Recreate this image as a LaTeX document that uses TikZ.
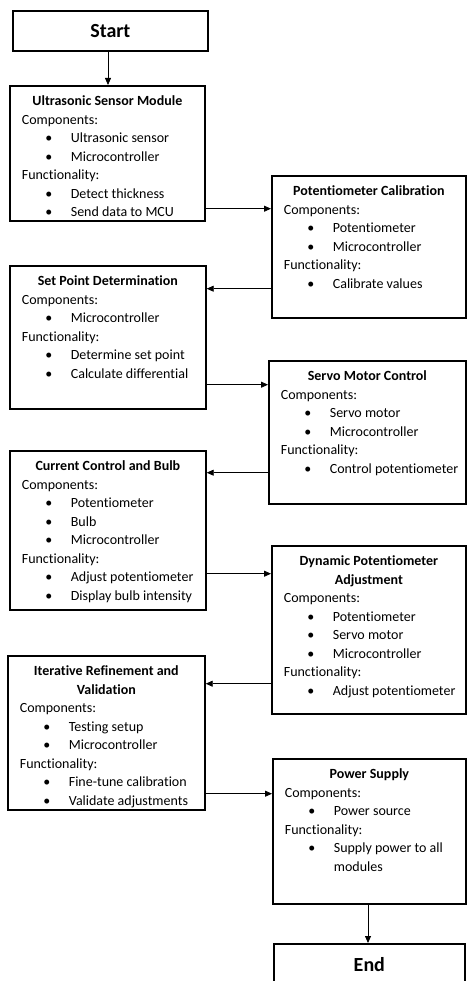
\documentclass[tikz,border=0pt]{standalone}
\usepackage{fontspec}
\setmainfont{Carlito}[Ligatures=NoCommon]
\usetikzlibrary{arrows.meta}

\newcommand{\itm}[1]{\hspace*{23.5pt}\makebox[25.5pt][l]{\textbullet}\mbox{#1}\\}
\newcommand{\blockbody}[3]{\parbox[c][#2][t]{#1}{\fontsize{14}{18.5}\selectfont
  \raggedright\vspace*{10pt}#3}}

\begin{document}
\begin{tikzpicture}[x=1pt, y=-1pt,
    blk/.style={draw, line width=1.7pt, anchor=north west, inner xsep=12pt, inner ysep=0pt},
    term/.style={draw, line width=1.7pt, anchor=north west, inner sep=0pt, font=\fontsize{20}{24}\selectfont\bfseries},
    arr/.style={line width=0.8pt, -{Triangle[length=7pt,width=6pt]}}]
    \useasboundingbox (0,0) rectangle (466,981);

    \node (start) [term, minimum width=195pt, minimum height=40pt] at (12,10) {Start};

    \node (usm) [blk] at (9,85) {\blockbody{171pt}{135pt}{%
        {\centering\bfseries Ultrasonic Sensor Module\par}
        Components:\\
        \itm{Ultrasonic sensor}
        \itm{Microcontroller}
        Functionality:\\
        \itm{Detect thickness}
        \itm{Send data to MCU}}};

    \node (pc) [blk] at (271,175) {\blockbody{170pt}{142pt}{%
        {\centering\bfseries Potentiometer Calibration\par}
        Components:\\
        \itm{Potentiometer}
        \itm{Microcontroller}
        Functionality:\\
        \itm{Calibrate values}}};

    \node (spd) [blk] at (9,265) {\blockbody{172pt}{143pt}{%
        {\centering\bfseries Set Point Determination\par}
        Components:\\
        \itm{Microcontroller}
        Functionality:\\
        \itm{Determine set point}
        \itm{Calculate differential}}};

    \node (smc) [blk] at (268,360) {\blockbody{173pt}{143pt}{%
        {\centering\bfseries Servo Motor Control\par}
        Components:\\
        \itm{Servo motor}
        \itm{Microcontroller}
        Functionality:\\
        \itm{Control potentiometer}}};

    \node (ccb) [blk] at (9,450) {\blockbody{172pt}{159pt}{%
        {\centering\bfseries Current Control and Bulb\par}
        Components:\\
        \itm{Potentiometer}
        \itm{Bulb}
        \itm{Microcontroller}
        Functionality:\\
        \itm{Adjust potentiometer}
        \itm{Display bulb intensity}}};

    \node (dpa) [blk] at (271,545) {\blockbody{170pt}{168pt}{%
        {\centering\bfseries Dynamic Potentiometer\\ Adjustment\par}
        Components:\\
        \itm{Potentiometer}
        \itm{Servo motor}
        \itm{Microcontroller}
        Functionality:\\
        \itm{Adjust potentiometer}}};

    \node (irv) [blk] at (7,655) {\blockbody{173pt}{154pt}{%
        {\centering\bfseries Iterative Refinement and\\ Validation\par}
        Components:\\
        \itm{Testing setup}
        \itm{Microcontroller}
        Functionality:\\
        \itm{Fine-tune calibration}
        \itm{Validate adjustments}}};

    \node (ps) [blk] at (272,758) {\blockbody{169pt}{145pt}{%
        {\centering\bfseries Power Supply\par}
        Components:\\
        \itm{Power source}
        Functionality:\\
        \itm{Supply power to all}
        \hspace*{49pt}modules}};

    \node (end) [term, minimum width=191pt, minimum height=42pt] at (273,943) {End};

    % connectors
    \draw[arr] (start.south -| 108,0) -- (usm.north -| 108,0);
    \draw[arr] ([yshift=13pt]usm.south east) coordinate (a1) -- (a1 -| pc.west);
    \draw[arr] ([yshift=30pt]pc.south west) coordinate (a2) -- (a2 -| spd.east);
    \draw[arr] ([yshift=25pt]spd.south east) coordinate (a3) -- (a3 -| smc.west);
    \draw[arr] ([yshift=32pt]smc.south west) coordinate (a4) -- (a4 -| ccb.east);
    \draw[arr] ([yshift=37pt]ccb.south east) coordinate (a5) -- (a5 -| dpa.west);
    \draw[arr] ([yshift=31pt]dpa.south west) coordinate (a6) -- (a6 -| irv.east);
    \draw[arr] ([yshift=17pt]irv.south east) coordinate (a7) -- (a7 -| ps.west);
    \draw[arr] (ps.south -| 368,0) -- (end.north -| 368,0);
\end{tikzpicture}
\end{document}
